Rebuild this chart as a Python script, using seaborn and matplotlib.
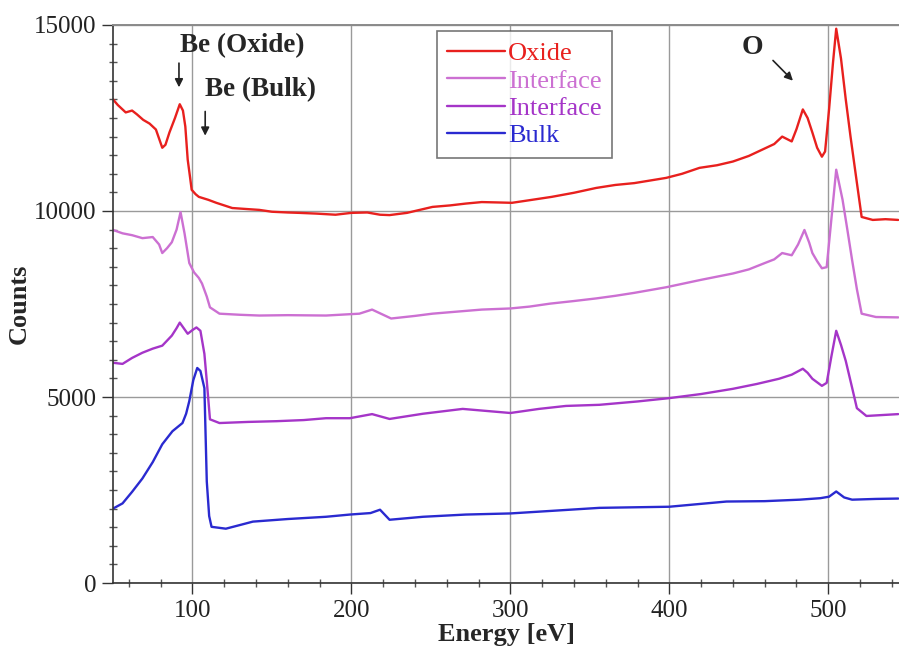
import matplotlib
matplotlib.use("Agg")
import matplotlib.pyplot as plt
from matplotlib.ticker import MultipleLocator
import seaborn as sns
import pandas as pd

# Auger spectra of Be: oxide layer, two interface depths and bulk
oxide_energy = [50, 53, 58, 62, 65, 69, 73, 77, 81, 83, 85.5, 89, 92, 94, 95.5, 97, 98.5, 99.5,
                102, 104, 110, 115, 120, 125, 135, 142, 150, 160, 167, 178, 190, 200, 210, 218,
                224, 235, 245, 251, 262, 272, 282, 292, 301, 312, 326, 340, 354, 366, 378, 388,
                398, 408, 419, 430, 440, 450, 461, 466, 471, 477, 480, 484, 487, 490, 493, 496,
                498, 500.5, 503, 505, 508, 511, 514, 518, 521, 528, 536, 544]
oxide_counts = [13000, 12850, 12650, 12700, 12600, 12450, 12350, 12190, 11700, 11780, 12110, 12500,
                12870, 12700, 12270, 11380, 10900, 10570, 10450, 10380, 10300, 10220, 10150, 10080,
                10050, 10030, 9980, 9960, 9950, 9930, 9900, 9950, 9960, 9900, 9890, 9950, 10050,
                10110, 10150, 10200, 10240, 10230, 10220, 10290, 10380, 10490, 10620, 10700, 10750,
                10820, 10890, 11000, 11160, 11230, 11330, 11480, 11700, 11800, 12000, 11870, 12200,
                12730, 12500, 12110, 11700, 11460, 11600, 12730, 14000, 14900, 14100, 13000, 12000,
                10760, 9840, 9760, 9780, 9760]

iface1_energy = [50, 56, 62, 68.5, 75, 79, 81, 84, 87, 90, 92.5, 95, 98, 101, 104, 106, 109, 111,
                 117, 130, 142, 160, 184, 205, 213, 218, 225, 240, 251, 265, 282, 300, 312, 325,
                 340, 354, 366, 378, 398, 420, 440, 450, 460, 466, 471, 477, 481, 485, 488, 490,
                 493, 496, 499, 502, 505, 509, 512, 515, 518, 521, 530, 544]
iface1_counts = [9490, 9400, 9350, 9270, 9300, 9100, 8870, 9000, 9160, 9500, 9970, 9400, 8600, 8350,
                 8200, 8050, 7700, 7410, 7240, 7210, 7190, 7200, 7190, 7240, 7350, 7250, 7110, 7180,
                 7240, 7290, 7350, 7380, 7430, 7510, 7580, 7650, 7720, 7800, 7950, 8150, 8320, 8430,
                 8600, 8700, 8870, 8810, 9100, 9490, 9150, 8870, 8650, 8460, 8490, 9800, 11110,
                 10300, 9500, 8680, 7900, 7240, 7150, 7140]

iface2_energy = [50, 56, 62, 68.5, 75, 81, 87, 90, 92, 94.5, 97, 100, 102.5, 105, 107.5, 109, 111,
                 117, 135, 153, 170, 184, 199, 213, 224, 245, 270, 300, 318, 335, 356, 380, 400,
                 420, 440, 455, 469, 477, 484, 487, 490, 496, 499, 502, 505, 508, 511, 515, 518,
                 524, 544]
iface2_counts = [5920, 5890, 6050, 6190, 6300, 6380, 6650, 6850, 7000, 6850, 6700, 6800, 6870, 6780,
                 6160, 5430, 4400, 4300, 4330, 4350, 4380, 4430, 4430, 4540, 4410, 4550, 4680, 4570,
                 4680, 4760, 4790, 4880, 4970, 5080, 5220, 5350, 5490, 5600, 5760, 5650, 5490, 5300,
                 5380, 6100, 6780, 6400, 5970, 5250, 4700, 4490, 4540]

bulk_energy = [50, 56, 62, 68.5, 75, 81, 87.4, 93.7, 96, 98, 100.5, 103, 105, 107.5, 109, 110.5,
               112, 121, 130, 138, 160, 184, 199, 212, 218, 224, 245, 272, 300, 330, 356, 400, 436,
               460, 482, 495, 500.5, 505, 510, 515, 530, 544]
bulk_counts = [2000, 2140, 2450, 2810, 3250, 3730, 4080, 4300, 4550, 4890, 5450, 5780, 5700, 5240,
               2730, 1800, 1510, 1460, 1560, 1650, 1720, 1780, 1840, 1880, 1970, 1700, 1780, 1840,
               1870, 1950, 2020, 2050, 2190, 2200, 2240, 2280, 2320, 2460, 2300, 2240, 2260, 2270]

series_labels = ["Oxide", "Interface", "Interface", "Bulk"]
series_colors = ["#e8201e", "#cc70d2", "#a535c8", "#2a2ad0"]

sns.set_style("white")
plt.rcParams["font.family"] = ["Liberation Serif", "DejaVu Serif"]

fig = plt.figure(figsize=(8.99, 6.46), dpi=100)
ax = fig.add_axes([113 / 899, 63 / 646, 786 / 899, 558 / 646])

series = [(oxide_energy, oxide_counts), (iface1_energy, iface1_counts),
          (iface2_energy, iface2_counts), (bulk_energy, bulk_counts)]
for (e, c), lab, col in zip(series, series_labels, series_colors):
    df = pd.DataFrame({"Energy": e, "Counts": c})
    sns.lineplot(data=df, x="Energy", y="Counts", ax=ax, color=col, lw=1.7, label=lab)

ax.set_xlim(50, 544.5)
ax.set_ylim(0, 15000)
ax.xaxis.set_major_locator(MultipleLocator(100))
ax.xaxis.set_minor_locator(MultipleLocator(20))
ax.yaxis.set_major_locator(MultipleLocator(5000))
ax.yaxis.set_minor_locator(MultipleLocator(500))
ax.grid(True, which="major", color="#9a9a9a", lw=1.0)
ax.tick_params(which="major", direction="out", length=8, width=1, color="#333333",
               labelsize=18, labelcolor="#222222", pad=4)
ax.tick_params(which="minor", direction="inout", length=6, width=1, color="#555555")
ax.tick_params(axis="x", which="both", bottom=True)
ax.tick_params(axis="y", which="both", left=True)

for side in ["left", "bottom"]:
    ax.spines[side].set_color("#333333")
    ax.spines[side].set_linewidth(1.2)
ax.spines["top"].set_color("#8a8a8a")
ax.spines["top"].set_linewidth(1.4)
ax.spines["right"].set_visible(False)

ax.set_xlabel("Energy [eV]", fontsize=19, fontweight="bold", labelpad=1)
ax.set_ylabel("Counts", fontsize=19, fontweight="bold", labelpad=2)

leg = ax.legend(loc="upper left", bbox_to_anchor=(0.412, 0.989), borderaxespad=0,
                fontsize=19, handlelength=2.2, handletextpad=0.1, labelspacing=0.15,
                frameon=True, fancybox=False, borderpad=0.4)
leg.get_frame().set_edgecolor("#555555")
leg.get_frame().set_linewidth(1.2)
for txt, col in zip(leg.get_texts(), series_colors):
    txt.set_color(col)

arrow = dict(arrowstyle="-|>", color="#222222", lw=1.2, mutation_scale=12)
ax.text(92, 14450, "Be (Oxide)", fontsize=19.5, fontweight="bold", ha="left", va="center")
ax.annotate("", xy=(91.5, 13250), xytext=(91.5, 14050), arrowprops=arrow)
ax.text(108, 13250, "Be (Bulk)", fontsize=19.5, fontweight="bold", ha="left", va="center")
ax.annotate("", xy=(108, 11950), xytext=(108, 12750), arrowprops=arrow)
ax.text(452, 14400, "O", fontsize=20, fontweight="bold", ha="center", va="center")
ax.annotate("", xy=(479, 13450), xytext=(464, 14100), arrowprops=arrow)

fig.savefig("out.png", dpi=100)
